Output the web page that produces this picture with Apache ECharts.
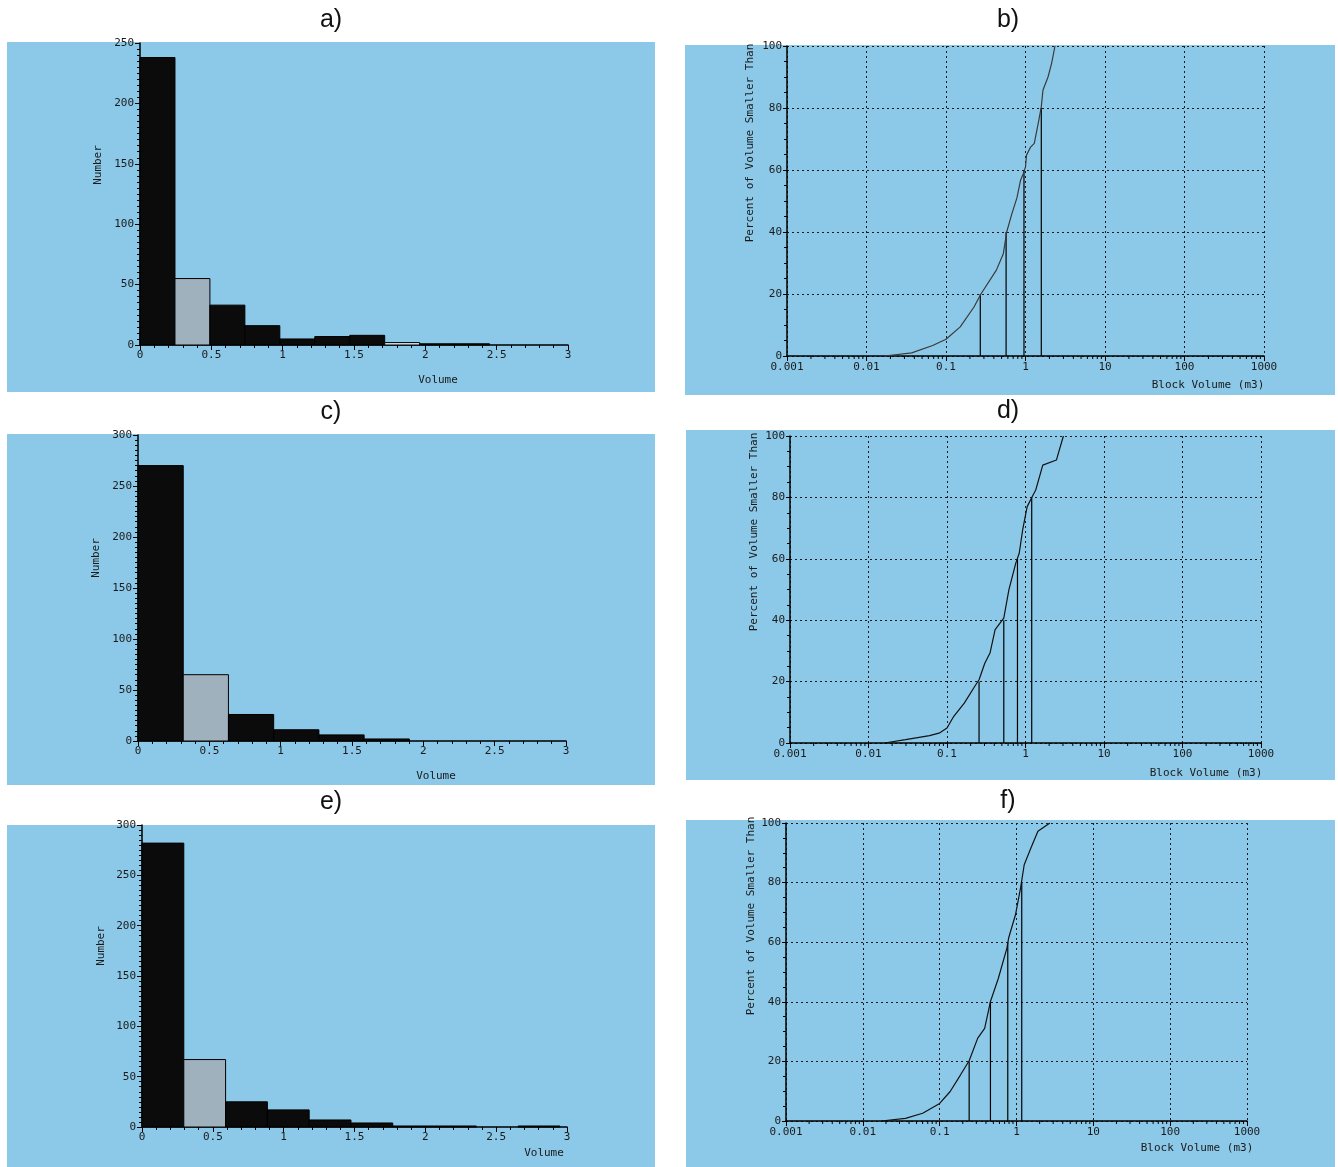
<!DOCTYPE html>
<html>
<head>
<meta charset="utf-8">
<script src="https://cdn.jsdelivr.net/npm/echarts@6/dist/echarts.min.js"></script>
<style>
  html, body { margin: 0; padding: 0; background: #fff; }
  #chart { width: 1338px; height: 1167px; }
</style>
</head>
<body>
<div id="chart"></div>
<script>
// histograms: bin width (m3) and block count per bin
const binWidthA = 0.245;
const countsA = [238, 55, 33, 16, 5, 7, 8, 2, 1, 1];
const binWidthC = 0.317;
const countsC = [270, 65, 26, 11, 6, 2];
const binWidthE = 0.295;
const countsE = [282, 67, 25, 17, 7, 4, 1, 1, 0, 1];

// cumulative curves: [block volume m3, percent of volume smaller than]
const curveB = [[0.0168, 0], [0.037, 1], [0.068, 3.4], [0.1, 5.4], [0.151, 9.4], [0.225, 15.8],
  [0.275, 20], [0.43, 27.7], [0.526, 33], [0.58, 40], [0.676, 46], [0.78, 51], [0.867, 56.7],
  [0.94, 58.9], [1.0, 61], [1.03, 64.8], [1.16, 67.4], [1.29, 68.6], [1.47, 76], [1.58, 80.4],
  [1.66, 85.8], [1.92, 90], [2.13, 94.4], [2.35, 100]];
const curveD = [[0.0161, 0], [0.0296, 1.1], [0.06, 2.4], [0.081, 3.3], [0.1, 4.9], [0.122, 8.7],
  [0.166, 13], [0.225, 18.4], [0.256, 20.6], [0.303, 26], [0.353, 29.3], [0.41, 36.9],
  [0.529, 40.7], [0.614, 49.9], [0.752, 58.6], [0.832, 61.8], [0.92, 69.4], [1.05, 77],
  [1.22, 80.3], [1.35, 82.4], [1.66, 90.5], [2.48, 92.2], [3.04, 100]];
const curveF = [[0.0174, 0], [0.0359, 0.9], [0.0601, 2.6], [0.1, 5.9], [0.137, 9.9], [0.187, 15.5],
  [0.242, 20.2], [0.313, 27.8], [0.385, 31.1], [0.458, 40.1], [0.581, 47.9], [0.75, 58],
  [0.79, 61.4], [0.97, 69.2], [1.13, 78.2], [1.26, 86], [1.54, 91.6], [1.9, 97.2], [2.72, 100]];

// percentile drop lines: [block volume m3, percent]
const dropB = [[0.27, 20], [0.57, 40], [0.957, 60], [1.58, 80]];
const dropD = [[0.256, 20], [0.529, 40], [0.79, 60], [1.2, 80]];
const dropF = [[0.242, 20], [0.458, 40], [0.77, 60], [1.17, 80]];

// log axis minor tick multipliers within each decade
const minorMultipliers = [2, 3, 4, 5, 6, 7, 8, 9];
const decades = [0.001, 0.01, 0.1, 1, 10, 100];

const BLUE = '#8cc9e8';
const MONO = 'DejaVu Sans Mono';
const labelStyle = { color: '#1a1a1a', fontSize: 11, fontFamily: MONO };

const chart = echarts.init(document.getElementById('chart'));

const grids = [
  { left: 140, top: 43, width: 428, height: 302 },   // a
  { left: 138, top: 435, width: 428, height: 306 },  // c
  { left: 142, top: 825, width: 425, height: 302 },  // e
  { left: 787, top: 46, width: 477, height: 310 },   // b
  { left: 790, top: 436, width: 471, height: 307 },  // d
  { left: 786, top: 823, width: 461, height: 298 }   // f
];

function histX(i) {
  return {
    gridIndex: i, type: 'value', min: 0, max: 3, interval: 0.5,
    axisLine: { lineStyle: { color: '#000', width: 1.5 } },
    axisTick: { inside: false, length: 5, lineStyle: { color: '#000' } },
    minorTick: { show: true, splitNumber: 5, length: 3, lineStyle: { color: '#000' } },
    splitLine: { show: false },
    axisLabel: Object.assign({ margin: 5 }, labelStyle)
  };
}
function histY(i, max) {
  return {
    gridIndex: i, type: 'value', min: 0, max: max, interval: 50,
    axisLine: { show: true, lineStyle: { color: '#000', width: 1.5 } },
    axisTick: { show: true, length: 5, lineStyle: { color: '#000' } },
    minorTick: { show: true, splitNumber: 10, length: 3, lineStyle: { color: '#000' } },
    splitLine: { show: false },
    axisLabel: Object.assign({ margin: 6 }, labelStyle)
  };
}
function logX(i) {
  return {
    gridIndex: i, type: 'log', logBase: 10, min: 0.001, max: 1000, splitNumber: 6,
    axisLine: { lineStyle: { color: '#000', width: 1.5 } },
    axisTick: { show: true, length: 5, lineStyle: { color: '#000' } },
    splitLine: { show: true, lineStyle: { color: '#1a1a1a', type: [2, 3], width: 1 } },
    axisLabel: Object.assign({ margin: 6, formatter: v => String(+(+v).toPrecision(6)) }, labelStyle)
  };
}
function pctY(i) {
  return {
    gridIndex: i, type: 'value', min: 0, max: 100, interval: 20,
    axisLine: { show: true, lineStyle: { color: '#000', width: 1.5 } },
    axisTick: { show: true, length: 4, lineStyle: { color: '#000' } },
    minorTick: { show: true, splitNumber: 4, length: 3, lineStyle: { color: '#000' } },
    splitLine: { show: true, lineStyle: { color: '#1a1a1a', type: [2, 3], width: 1 } },
    axisLabel: Object.assign({ margin: 5 }, labelStyle)
  };
}

function histSeries(i, width, counts, fills) {
  return {
    type: 'custom', xAxisIndex: i, yAxisIndex: i, clip: false,
    data: counts.map((c, k) => [k * width, (k + 1) * width, c]),
    encode: { x: [0, 1], y: 2 },
    renderItem: function (params, api) {
      if (!api.value(2)) return null;
      const p0 = api.coord([api.value(0), api.value(2)]);
      const p1 = api.coord([api.value(1), 0]);
      return {
        type: 'rect',
        shape: { x: p0[0], y: p0[1], width: p1[0] - p0[0], height: p1[1] - p0[1] },
        style: { fill: fills[params.dataIndex] || '#0b0b0b', stroke: '#000', lineWidth: 1 }
      };
    }
  };
}
function curveSeries(i, data, color) {
  return {
    type: 'line', xAxisIndex: i, yAxisIndex: i, data: data, showSymbol: false,
    symbol: 'none', lineStyle: { color: color, width: 1.2 }, silent: true
  };
}
function dropSeries(i, data) {
  return {
    type: 'custom', xAxisIndex: i, yAxisIndex: i, data: data,
    renderItem: function (params, api) {
      const top = api.coord([api.value(0), api.value(1)]);
      const bottom = api.coord([api.value(0), 0]);
      return {
        type: 'line',
        shape: { x1: top[0], y1: top[1], x2: bottom[0], y2: bottom[1] },
        style: { stroke: '#000', lineWidth: 1.2 }
      };
    }
  };
}
function minorLogTicks(i) {
  const vals = [];
  decades.forEach(d => minorMultipliers.forEach(m => vals.push([d * m, 0])));
  return {
    type: 'custom', xAxisIndex: i, yAxisIndex: i, data: vals, clip: false, silent: true,
    renderItem: function (params, api) {
      const p = api.coord([api.value(0), 0]);
      return {
        type: 'line',
        shape: { x1: p[0], y1: p[1], x2: p[0], y2: p[1] + 3 },
        style: { stroke: '#000', lineWidth: 1 }
      };
    }
  };
}

function text(x, y, str, opts) {
  return Object.assign({
    type: 'text', x: x, y: y,
    style: { text: str, fill: '#1a1a1a', font: '11px "DejaVu Sans Mono"', align: 'center', verticalAlign: 'middle' }
  }, opts || {});
}
function vtext(x, y, str) {
  return text(x, y, str, { rotation: Math.PI / 2 });
}
function title(x, y, str) {
  return {
    type: 'text', x: x, y: y,
    style: { text: str, fill: '#111', font: '25px "Liberation Sans"', align: 'center', verticalAlign: 'middle' }
  };
}
function panel(x, y, w, h) {
  return { type: 'rect', z: -10, shape: { x: x, y: y, width: w, height: h }, style: { fill: BLUE } };
}

const option = {
  backgroundColor: '#ffffff',
  animation: false,
  graphic: [
    panel(7, 42, 648, 350), panel(7, 434, 648, 351), panel(7, 825, 648, 342),
    panel(685, 45, 650, 350), panel(686, 430, 649, 350), panel(686, 820, 649, 347),
    title(331, 20, 'a)'), title(1008, 20, 'b)'),
    title(331, 412, 'c)'), title(1008, 411, 'd)'),
    title(331, 802, 'e)'), title(1008, 801, 'f)'),
    vtext(98, 165, 'Number'), vtext(96, 558, 'Number'), vtext(101, 946, 'Number'),
    text(438, 380, 'Volume'), text(436, 776, 'Volume'), text(544, 1153, 'Volume'),
    vtext(750, 143, 'Percent of Volume Smaller Than'),
    vtext(754, 532, 'Percent of Volume Smaller Than'),
    vtext(751, 916, 'Percent of Volume Smaller Than'),
    text(1208, 385, 'Block Volume (m3)'),
    text(1206, 773, 'Block Volume (m3)'),
    text(1197, 1148, 'Block Volume (m3)')
  ],
  grid: grids.map(g => Object.assign({ containLabel: false }, g)),
  xAxis: [histX(0), histX(1), histX(2), logX(3), logX(4), logX(5)],
  yAxis: [histY(0, 250), histY(1, 300), histY(2, 300), pctY(3), pctY(4), pctY(5)],
  series: [
    histSeries(0, binWidthA, countsA, { 1: '#9fb1bd', 7: '#d9eaf2' }),
    histSeries(1, binWidthC, countsC, { 1: '#9fb1bd' }),
    histSeries(2, binWidthE, countsE, { 1: '#9fb1bd' }),
    curveSeries(3, curveB, '#3a3a3a'), dropSeries(3, dropB), minorLogTicks(3),
    curveSeries(4, curveD, '#111'), dropSeries(4, dropD), minorLogTicks(4),
    curveSeries(5, curveF, '#111'), dropSeries(5, dropF), minorLogTicks(5)
  ]
};

chart.setOption(option);
</script>
</body>
</html>
